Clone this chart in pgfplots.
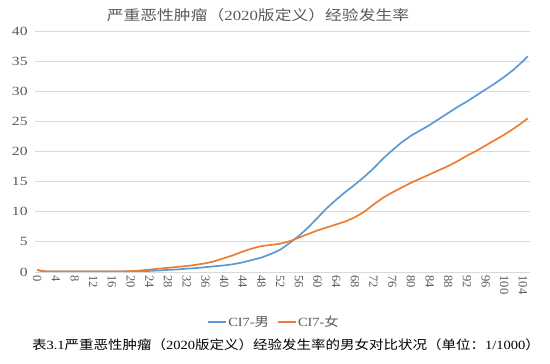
\documentclass[border=0pt]{standalone}
\usepackage{pgfplots}
\pgfplotsset{compat=1.18}
\usepackage{fontspec}
\setmainfont{Liberation Serif}
\newfontfamily\cjk{Noto Sans CJK SC}
\definecolor{cblue}{HTML}{5B9BD5}
\definecolor{corange}{HTML}{ED7D31}
\definecolor{cgrid}{HTML}{D9D9D9}
\definecolor{ctext}{HTML}{595959}
\pgfplotstableread{
age v
0 0.35
1 0.15
2 0.1
4 0.08
8 0.08
12 0.08
16 0.08
20 0.08
22 0.12
24 0.18
26 0.25
28 0.35
30 0.42
32 0.55
34 0.65
36 0.8
38 0.95
40 1.1
42 1.3
44 1.6
46 2.0
48 2.4
50 3.0
52 3.7
54 4.8
56 6.0
58 7.4
60 9.0
62 10.6
64 12.0
66 13.3
68 14.5
70 15.8
72 17.2
74 18.8
76 20.2
78 21.5
80 22.6
82 23.5
84 24.4
86 25.4
88 26.4
90 27.4
92 28.3
94 29.3
96 30.3
98 31.3
100 32.4
102 33.6
104 35.0
105 35.8
}\male
\pgfplotstableread{
age v
0 0.35
1 0.15
2 0.1
4 0.08
8 0.08
12 0.08
16 0.08
18 0.1
20 0.15
22 0.25
24 0.4
26 0.55
28 0.7
30 0.85
32 1.0
34 1.2
36 1.45
38 1.8
40 2.3
42 2.8
44 3.4
46 3.9
48 4.3
50 4.5
52 4.7
54 5.1
56 5.7
58 6.3
60 6.9
62 7.4
64 7.9
66 8.4
68 9.1
70 10.0
72 11.2
74 12.3
76 13.2
78 14.0
80 14.8
82 15.5
84 16.2
86 16.9
88 17.6
90 18.4
92 19.3
94 20.1
96 21.0
98 21.9
100 22.8
102 23.8
104 24.9
105 25.5
}\female
\begin{document}
\begin{tikzpicture}
\useasboundingbox (-35pt,-92pt) rectangle (515pt,272pt);
\begin{axis}[
  anchor=south west,
  scale only axis, width=495pt, height=241pt,
  xmin=-0.5, xmax=105.5, ymin=0, ymax=40,
  xtick={0,4,...,104}, ytick={0,5,...,40},
  axis line style={draw=none},
  major tick length=0pt,
  ymajorgrids, grid style={cgrid, line width=0.8pt},
  /pgf/number format/assume math mode=true,
  xticklabel style={rotate=-90, anchor=west, font=\fontsize{12.5}{13}\selectfont, text=ctext},
  yticklabel style={xshift=-3pt, font=\fontsize{12.5}{13}\selectfont, text=ctext, xscale=1.25},
  legend style={at={(0.482,-0.2075)}, anchor=center, draw=none, fill=none,
    legend columns=2, font=\fontsize{12.5}{13}\selectfont\color{ctext},
    /tikz/every odd column/.append style={column sep=0pt},
    /tikz/every even column/.append style={column sep=6pt},
    nodes={inner xsep=1.5pt}},
  legend cell align=left,
  legend image code/.code={\draw[#1, line width=2pt] (0pt,0pt) -- (18pt,0pt);},
]
\addplot[cblue, line width=1.7pt, smooth, tension=0.3] table[x=age,y=v]{\male};
\addlegendentry{\scalebox{1.15}[1]{CI7-{\cjk 男}}}
\addplot[corange, line width=1.7pt, smooth, tension=0.3] table[x=age,y=v]{\female};
\addlegendentry{\scalebox{1.15}[1]{CI7-{\cjk 女}}}
\end{axis}
\node[text=ctext, font=\fontsize{14}{15}\selectfont, xscale=1.2] at (223pt,257pt) {{\cjk 严重恶性肿瘤（}2020{\cjk 版定义）经验发生率}};
\node[text=black, font=\fontsize{12.5}{13}\selectfont, xscale=1.16] at (251pt,-73pt) {{\cjk 表}3.1{\cjk 严重恶性肿瘤（}2020{\cjk 版定义）经验发生率的男女对比状况（单位：}1/1000{\cjk ）}};
\end{tikzpicture}
\end{document}
